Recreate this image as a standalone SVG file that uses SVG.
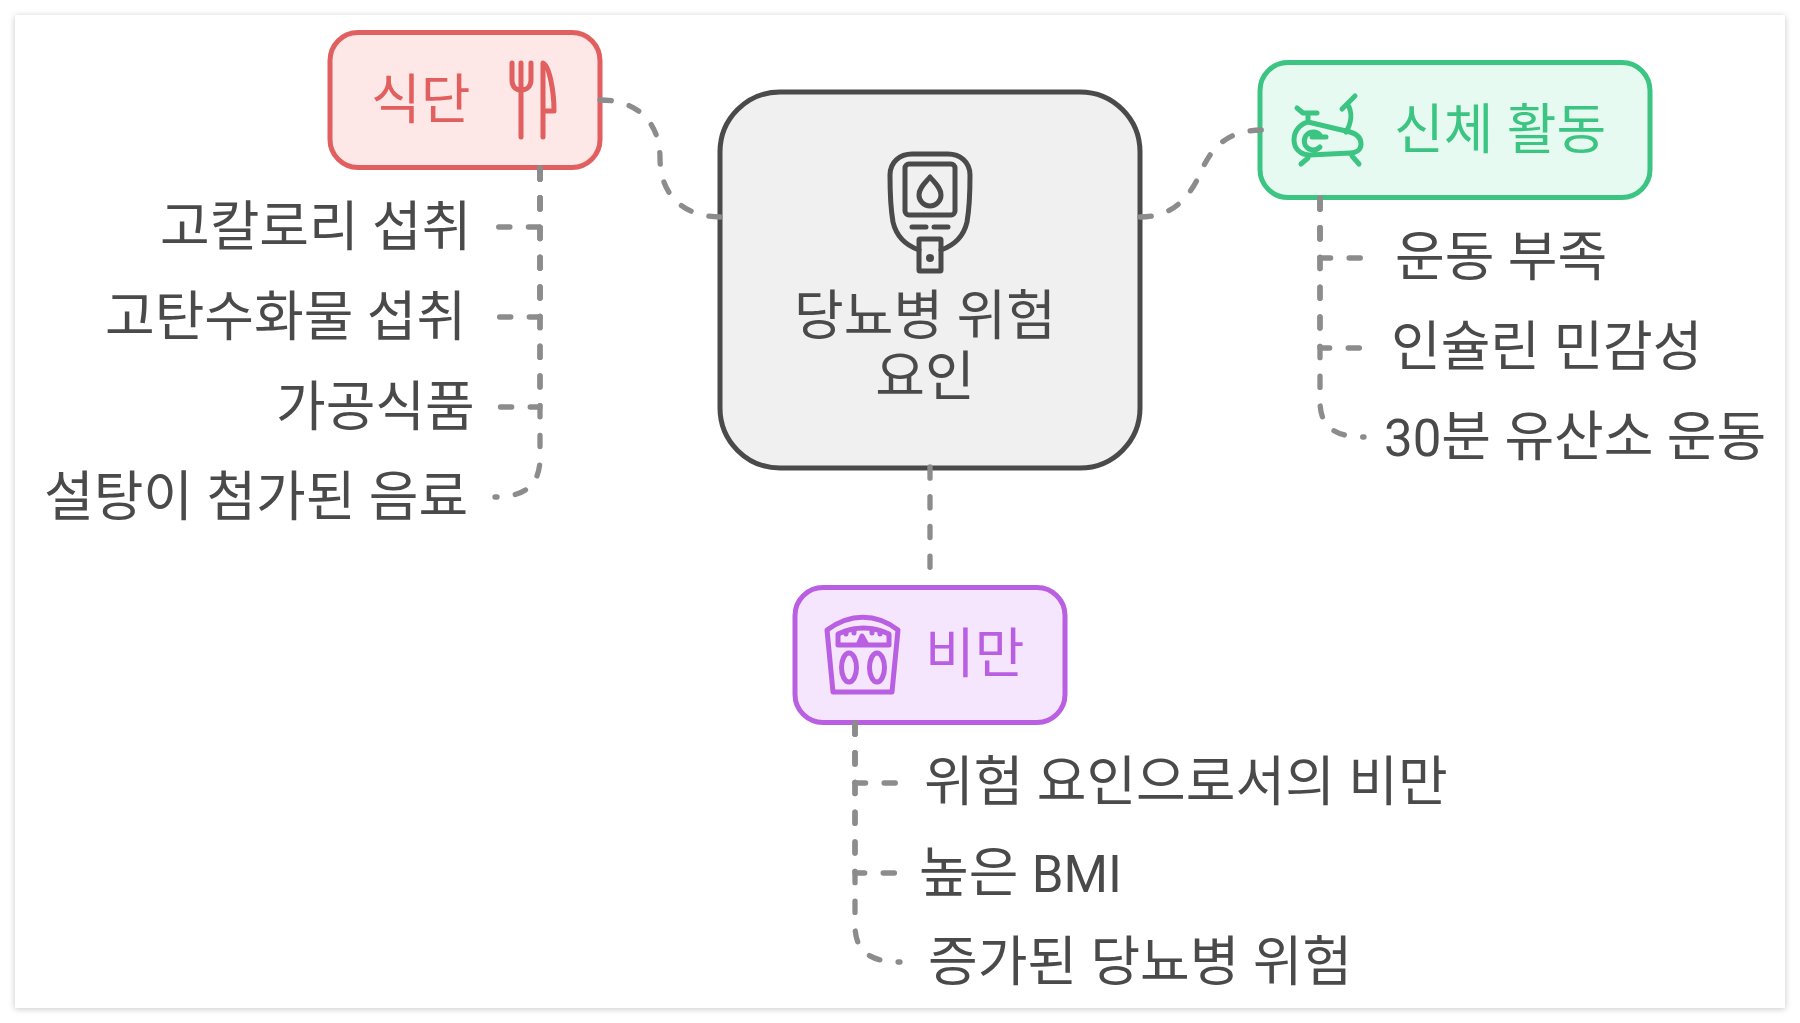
<svg xmlns="http://www.w3.org/2000/svg" width="1800" height="1023" viewBox="0 0 1800 1023">
<style>
text{font-family:Roboto,"Noto Sans CJK KR",sans-serif;font-size:54px;fill:#4a4a4a}
tspan{font-size:51px}
.c{fill:none;stroke:#8c8c8c;stroke-width:5.3;stroke-linecap:round;stroke-linejoin:round;stroke-dasharray:11.2 18.5}
.n{stroke-width:5}
.i{fill:none;stroke-width:5;stroke-linecap:round;stroke-linejoin:round}
</style>
<defs><filter id="sh" x="-2%" y="-2%" width="104%" height="104%"><feDropShadow dx="0" dy="1" stdDeviation="3" flood-color="#000" flood-opacity=".22"/></filter></defs>
<rect x="15" y="15" width="1770" height="993" fill="#fff" filter="url(#sh)"/>
<g id="center">
<rect class="n" x="720" y="92" width="420" height="376" rx="60" fill="#f0f0f0" stroke="#4a4a4a"/>
<g class="i" stroke="#4a4a4a">
<path d="M919 250C905 245 896 235 893 222C890 205 890 190 890 175C890 162 900 154 912 154H948C960 154 970 162 970 175C970 190 970 205 967 222C964 235 955 245 941 250"/>
<rect x="905" y="164" width="50" height="51" rx="4"/>
<path d="M930 177C925 183 919 188 919 195A11 11 0 0 0 941 195C941 188 935 183 930 177Z"/>
<path d="M912 227H926M934 227H948"/>
<rect x="919" y="239" width="22" height="32" rx="1"/>
<circle cx="930" cy="258" r="4" fill="#4a4a4a" stroke="none"/>
</g>
<text x="925" y="335" text-anchor="middle">당뇨병 위험</text>
<text x="925" y="396" text-anchor="middle">요인</text>
</g>
<g id="diet">
<rect class="n" x="330" y="32.500" width="270" height="135" rx="28" fill="#fee7e7" stroke="#e25f5f"/>
<text x="371" y="119" style="fill:#e25f5f">식단</text>
<path class="i" stroke="#e25f5f" d="M512 63V80C512 87 516 90 521 90C526 90 531 87 531 80V63M521 63V137M543 137V63C549 65 554 90 554 111H543"/>
</g>
<g id="activity">
<rect class="n" x="1260" y="62.500" width="390" height="135" rx="28" fill="#e7faf1" stroke="#3cc582"/>
<text x="1394" y="149" style="fill:#3cc582">신체 활동</text>
<path class="i" stroke="#3cc582" d="M1308 122L1350 132C1357 134 1361 138 1361 144C1361 150 1356 153 1350 153L1310 155C1300 155 1294 148 1294 140C1294 131 1300 124 1308 122ZM1308 122V113M1297 108L1303 113H1317M1346 132C1352 122 1352 112 1348 105M1342 109L1355 96M1308 158L1301 164M1352 156L1359 164M1326 137H1312M1320 147A9 9 0 1 1 1320 135"/>
</g>
<g id="obesity">
<rect class="n" x="795" y="587.500" width="270" height="135" rx="28" fill="#f6e6fd" stroke="#b95fe2"/>
<text x="925" y="673" style="fill:#b95fe2">비만</text>
<g class="i" stroke="#b95fe2">
<path d="M827 630C850 613 876 613 898 630L892 692H833Z"/>
<path d="M838 634C855 626 872 626 889 634V645H838Z"/>
<path d="M846 631V634M854 629V633M872 629V633M880 631V634"/>
<path d="M862 636L859 643H866Z" fill="#b95fe2"/>
<ellipse cx="849" cy="667.500" rx="7.500" ry="14.500"/>
<ellipse cx="877" cy="667.500" rx="7.500" ry="14.500"/>
</g>
</g>
<g id="labels">
<text x="160" y="246">고칼로리 섭취</text>
<text x="105" y="336">고탄수화물 섭취</text>
<text x="276" y="426">가공식품</text>
<text x="44" y="516">설탕이 첨가된 음료</text>
<text x="1395" y="276">운동 부족</text>
<text x="1391" y="366">인슐린 민감성</text>
<text x="1384" y="456"><tspan>30</tspan>분 유산소 운동</text>
<text x="924" y="801">위험 요인으로서의 비만</text>
<text x="919" y="892">높은 <tspan>BMI</tspan></text>
<text x="928" y="981">증가된 당뇨병 위험</text>
</g>
<g id="connectors">
<path class="c" d="M600 100C640 100 660 125 660 158C660 192 680 217 722 217"/>
<path class="c" d="M1140 217C1175 217 1190 195 1200 174C1210 150 1225 130 1262 130"/>
<path class="c" d="M930 467V580"/>
<path class="c" d="M540 168V227H497"/>
<path class="c" d="M540 168V317H497"/>
<path class="c" d="M540 168V407H497"/>
<path class="c" d="M540 168V458C540 482 528 497 495 497"/>
<path class="c" d="M1320 198V258H1366"/>
<path class="c" d="M1320 198V348H1366"/>
<path class="c" d="M1320 198V401C1320 425 1332 437 1364 437"/>
<path class="c" d="M855 723V783H901"/>
<path class="c" d="M855 723V873H901"/>
<path class="c" d="M855 723V925C855 950 868 962 900 962"/>
</g>
</svg>
